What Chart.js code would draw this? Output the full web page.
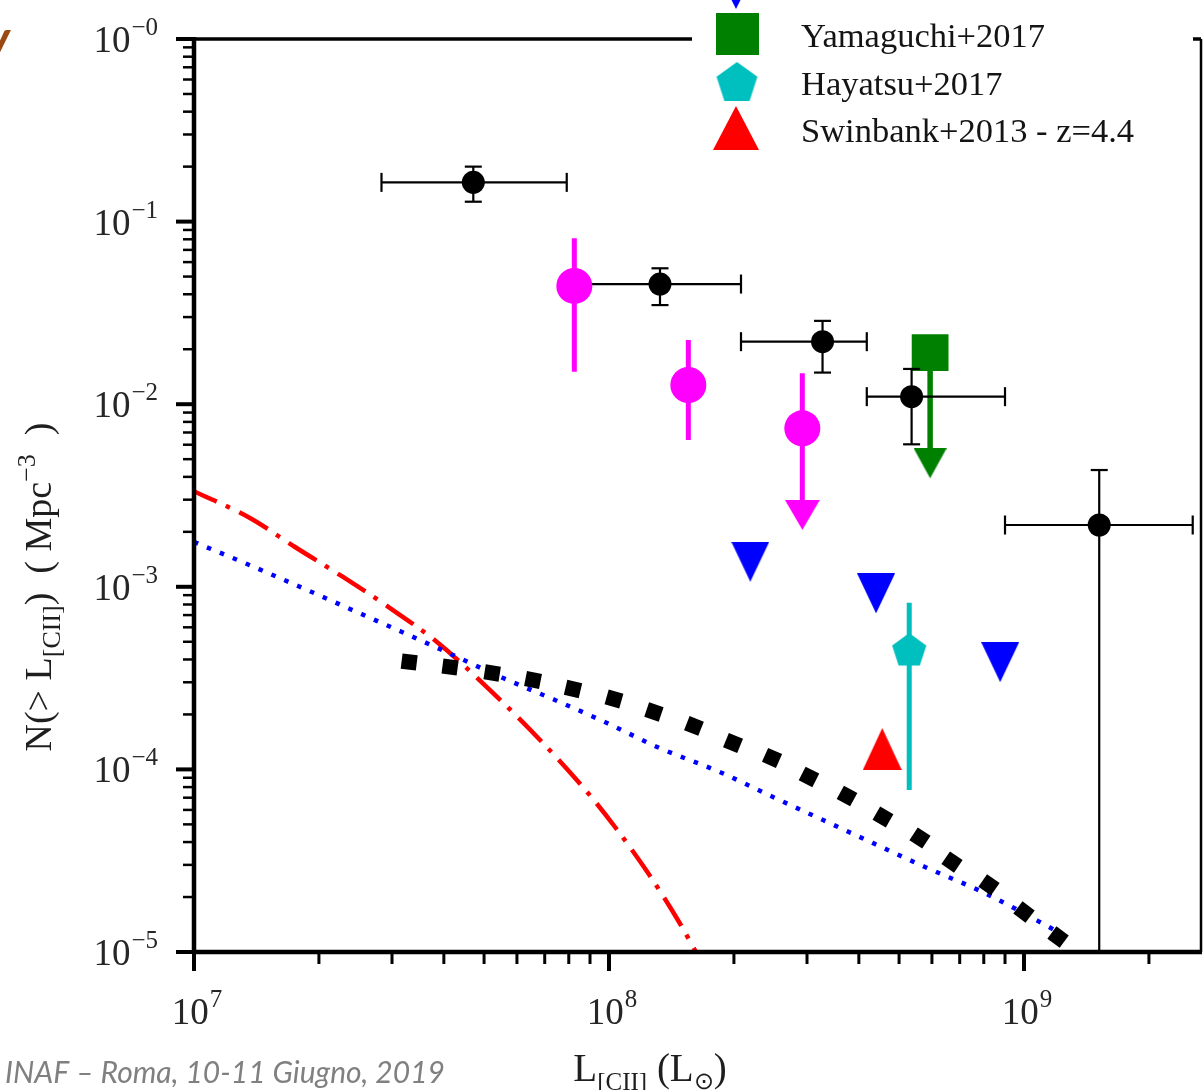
<!DOCTYPE html>
<html>
<head>
<meta charset="utf-8">
<script src="https://cdn.jsdelivr.net/npm/chart.js@4.4.1/dist/chart.umd.min.js"></script>
<style>
  html, body { margin: 0; padding: 0; background: #fff; overflow: hidden; }
  #wrap { width: 1204px; height: 1090px; }
  canvas { display: block; }
</style>
</head>
<body>
<div id="wrap"><canvas id="lf" width="1204" height="1090"></canvas></div>
<script>
// axis limits
const X_MIN = 1e7, X_MAX = 2.67e9;
const Y_MIN = 1e-5, Y_MAX = 1;
const xDecades = [7, 8, 9];
const yDecades = [0, -1, -2, -3, -4, -5];

// red dash-dot model
const redX = [1.0e7, 1.364e7, 1.751e7, 2.286e7, 2.967e7, 3.85e7, 5.167e7, 6.82e7, 8.9e7, 1.034e8, 1.242e8, 1.475e8, 1.62e8];
const redY = [3.34e-3, 2.381e-3, 1.652e-3, 1.132e-3, 7.65e-4, 4.985e-4, 2.72e-4, 1.449e-4, 7.42e-5, 4.836e-5, 2.707e-5, 1.46e-5, 1.0e-5];

// blue dotted model
const blueX = [1.0e7, 1.342e7, 1.781e7, 2.376e7, 3.171e7, 4.209e7, 5.554e7, 7.41e7, 9.89e7, 1.306e8, 1.872e8, 2.484e8, 3.279e8, 4.375e8, 5.774e8, 8.054e8, 1.235e9];
const blueY = [1.76e-3, 1.333e-3, 1.01e-3, 7.56e-4, 5.655e-4, 4.23e-4, 3.166e-4, 2.399e-4, 1.795e-4, 1.327e-4, 9.56e-5, 7.06e-5, 5.28e-5, 3.903e-5, 2.92e-5, 2.10e-5, 1.255e-5];

// black square-dotted model
const boxX = [3.30e7, 4.14e7, 5.23e7, 6.56e7, 8.19e7, 1.028e8, 1.283e8, 1.602e8, 1.99e8, 2.471e8, 3.033e8, 3.746e8, 4.573e8, 5.615e8, 6.707e8, 8.235e8, 1.0e9, 1.208e9];
const boxY = [3.875e-4, 3.637e-4, 3.372e-4, 3.087e-4, 2.756e-4, 2.429e-4, 2.062e-4, 1.729e-4, 1.395e-4, 1.155e-4, 9.09e-5, 7.15e-5, 5.49e-5, 4.21e-5, 3.11e-5, 2.33e-5, 1.656e-5, 1.208e-5];

// black points (bins) with errors
const ssX = [4.71e7, 1.327e8, 3.27e8, 5.36e8, 1.518e9];
const ssY = [0.164, 0.0455, 0.0220, 0.0110, 0.00218];
const ssXlo = [2.83e7, 7.91e7, 2.08e8, 4.18e8, 9.0e8];
const ssXhi = [7.91e7, 2.08e8, 4.18e8, 9.0e8, 2.55e9];
const ssYlo = [0.1285, 0.0349, 0.0149, 0.00603, 5e-6];
const ssYhi = [0.200, 0.0555, 0.0286, 0.0156, 0.00436];

// magenta points
const mgX = [8.25e7, 1.553e8, 2.923e8];
const mgY = [0.0444, 0.01274, 0.00738];
const mgYhi = [0.0810, 0.02247, 0.01476];
const mgYlo = [0.01507, 0.006366, null];
const mgLim = [null, null, 0.00205];

// Yamaguchi+2017 (upper limit)
const yamX = [5.94e8];
const yamY = [0.01919];
const yamLim = [0.00393];

// Hayatsu+2017
const hayX = [5.29e8];
const hayY = [4.45e-4];
const hayYlo = [7.71e-5];
const hayYhi = [8.18e-4];

// Swinbank+2013 - z=4.4
const swiX = [4.553e8];
const swiY = [1.293e-4];

// blue upper limits
const blX = [2.19e8, 4.40e8, 8.76e8];
const blY = [1.372e-3, 9.21e-4, 3.865e-4];

const legendLabels = ['Yamaguchi+2017', 'Hayatsu+2017', 'Swinbank+2013 - z=4.4'];

const SERIF = '"Liberation Serif", "Times New Roman", serif';
const MAGENTA = '#ff00ff', GREEN = '#008000', CYAN = '#00bfbf', RED = '#ff0000', BLUE = '#0000ff';

const pts = (xs, ys) => xs.map((x, i) => ({ x: x, y: ys[i] }));

// marker images (matplotlib-like shapes)
function shapeCanvas(cw, ch, color, poly) {
    const c = document.createElement('canvas');
    c.width = cw;
    c.height = ch;
    const g = c.getContext('2d');
    g.fillStyle = color;
    g.beginPath();
    poly.forEach((p, i) => i ? g.lineTo(p[0], p[1]) : g.moveTo(p[0], p[1]));
    g.closePath();
    g.fill();
    return c;
}
const triDown = (w, h, col) => shapeCanvas(w, h, col, [[0, 0], [w, 0], [w / 2, h]]);
const triUp = (w, h, col) => shapeCanvas(w, h, col, [[w / 2, 0], [w, h], [0, h]]);
// tip sits at the canvas centre
const arrowHead = (w, h, col) => shapeCanvas(w, 2 * h, col, [[0, 0], [w, 0], [w / 2, h]]);
function pentagon(r, col) {
    const s = Math.ceil(2 * r);
    const poly = [];
    for (let k = 0; k < 5; k++) {
        const a = (-90 + 72 * k) * Math.PI / 180;
        poly.push([s / 2 + r * Math.cos(a), s / 2 + r * Math.sin(a)]);
    }
    return shapeCanvas(s, s, col, poly);
}

const mkBlueTri = triDown(38, 40, BLUE);
const mkRedTri = triUp(39, 42, RED);
const mkPent = pentagon(18, CYAN);
const mkMgArrow = arrowHead(35, 30, MAGENTA);
const mkGrArrow = arrowHead(33, 30, GREEN);

// squares follow the direction of the curve
function boxAngle(c) {
    const d = c.dataset.data, i = c.dataIndex;
    const sx = c.chart.scales.x, sy = c.chart.scales.y;
    const p = d[Math.max(i - 1, 0)], q = d[Math.min(i + 1, d.length - 1)];
    const dx = sx.getPixelForValue(q.x) - sx.getPixelForValue(p.x);
    const dy = sy.getPixelForValue(q.y) - sy.getPixelForValue(p.y);
    return Math.atan2(dy, dx) * 180 / Math.PI;
}

function vline(ctx, x, y0, y1, col, w) {
    ctx.strokeStyle = col;
    ctx.lineWidth = w;
    ctx.beginPath();
    ctx.moveTo(x, y0);
    ctx.lineTo(x, y1);
    ctx.stroke();
}
function hline(ctx, x0, x1, y, col, w) {
    ctx.strokeStyle = col;
    ctx.lineWidth = w;
    ctx.beginPath();
    ctx.moveTo(x0, y);
    ctx.lineTo(x1, y);
    ctx.stroke();
}

const errBars = {
    id: 'errBars',
    beforeDatasetsDraw(chart) {
        const { ctx, chartArea: a, scales: { x, y } } = chart;
        ctx.save();
        ctx.beginPath();
        ctx.rect(a.left, a.top, a.right - a.left, a.bottom - a.top);
        ctx.clip();
        ctx.lineCap = 'butt';
        mgX.forEach((v, i) => {
            const px = x.getPixelForValue(v);
            if (mgLim[i] !== null) {
                vline(ctx, px, y.getPixelForValue(mgYhi[i]), y.getPixelForValue(mgLim[i]) - 20, MAGENTA, 5);
            } else {
                vline(ctx, px, y.getPixelForValue(mgYhi[i]), y.getPixelForValue(mgYlo[i]), MAGENTA, 5);
            }
        });
        yamX.forEach((v, i) => {
            vline(ctx, x.getPixelForValue(v), y.getPixelForValue(yamY[i]), y.getPixelForValue(yamLim[i]) - 20, GREEN, 5.5);
        });
        hayX.forEach((v, i) => {
            vline(ctx, x.getPixelForValue(v), y.getPixelForValue(hayYhi[i]), y.getPixelForValue(hayYlo[i]), CYAN, 5);
        });
        ctx.restore();
    },
    afterDatasetDraw(chart, args) {
        // black error bars go above the Yamaguchi square, below the other symbols
        if (chart.data.datasets[args.index].label !== 'Yamaguchi+2017') return;
        const { ctx, chartArea: a, scales: { x, y } } = chart;
        ctx.save();
        ctx.beginPath();
        ctx.rect(a.left, a.top, a.right - a.left, a.bottom - a.top);
        ctx.clip();
        ssX.forEach((v, i) => {
            const px = x.getPixelForValue(v), py = y.getPixelForValue(ssY[i]);
            const x0 = x.getPixelForValue(ssXlo[i]), x1 = x.getPixelForValue(ssXhi[i]);
            const y0 = y.getPixelForValue(ssYhi[i]), y1 = y.getPixelForValue(ssYlo[i]);
            hline(ctx, x0, x1, py, '#000', 2.2);
            vline(ctx, px, y0, y1, '#000', 2.2);
            vline(ctx, x0, py - 9.5, py + 9.5, '#000', 2.2);
            vline(ctx, x1, py - 9.5, py + 9.5, '#000', 2.2);
            hline(ctx, px - 8.5, px + 8.5, y0, '#000', 2.2);
            hline(ctx, px - 8.5, px + 8.5, y1, '#000', 2.2);
        });
        ctx.restore();
    }
};

// draws "10" with a raised exponent
function drawPow(ctx, exp, x, base, align) {
    const fBase = '37px ' + SERIF, fSup = '25px ' + SERIF;
    ctx.font = fBase;
    const wb = ctx.measureText('10').width;
    ctx.font = fSup;
    const we = ctx.measureText(exp).width;
    const x0 = align === 'right' ? x - wb - we - 1 : x - (wb + we + 1) / 2;
    ctx.font = fBase;
    ctx.fillText('10', x0, base);
    ctx.font = fSup;
    ctx.fillText(exp, x0 + wb + 1, base - 17);
}

// rich text: list of [text, size, dy]
function drawRich(ctx, parts, cx, base) {
    let total = 0;
    parts.forEach(p => { ctx.font = p[1] + 'px ' + SERIF; total += ctx.measureText(p[0]).width; });
    let xx = cx - total / 2;
    parts.forEach(p => {
        ctx.font = p[1] + 'px ' + SERIF;
        ctx.fillText(p[0], xx, base + p[2]);
        xx += ctx.measureText(p[0]).width;
    });
}

const frame = {
    id: 'frame',
    afterDraw(chart) {
        const { ctx, chartArea: a, scales: { x, y } } = chart;
        ctx.save();
        ctx.strokeStyle = '#000';
        ctx.lineCap = 'butt';
        // y ticks (outside, left)
        yDecades.forEach(e => {
            for (let k = 1; k <= 9; k++) {
                const v = k * Math.pow(10, e);
                if (v > Y_MAX * 1.0001) break;
                const py = y.getPixelForValue(v);
                hline(ctx, a.left - (k === 1 ? 18 : 11), a.left, py, '#000', k === 1 ? 4 : 2.5);
            }
        });
        // x ticks (outside, below)
        xDecades.forEach(e => {
            for (let k = 1; k <= 9; k++) {
                const v = k * Math.pow(10, e);
                if (v > X_MAX) break;
                const px = x.getPixelForValue(v);
                vline(ctx, px, a.bottom, a.bottom + (k === 1 ? 19 : 12), '#000', k === 1 ? 4 : 3);
            }
        });
        // frame
        vline(ctx, a.left, a.top - 2, a.bottom + 2, '#000', 4.5);
        hline(ctx, a.left - 2, a.right + 1, a.bottom, '#000', 4.5);
        hline(ctx, a.left, a.right, a.top, '#000', 3.5);
        vline(ctx, a.right, a.top, a.bottom, '#000', 2.5);

        // tick labels
        ctx.fillStyle = '#262626';
        ctx.textAlign = 'left';
        ctx.textBaseline = 'alphabetic';
        yDecades.forEach(e => {
            drawPow(ctx, '\u2212' + Math.abs(e), 158, y.getPixelForValue(Math.pow(10, e)) + 13, 'right');
        });
        xDecades.forEach(e => {
            drawPow(ctx, String(e), x.getPixelForValue(Math.pow(10, e)) + 3, 1024, 'center');
        });

        // axis titles
        ctx.fillStyle = '#1e1e1e';
        drawRich(ctx, [['L', 39, 0], ['[CII]', 25, 9], [' (L', 39, 0], ['\u2299', 24, 8], [')', 39, 0]], 650, 1081);
        ctx.save();
        ctx.translate(51, 587);
        ctx.rotate(-Math.PI / 2);
        drawRich(ctx, [['N(> L', 38, 0], ['[CII]', 26, 9], [')  ( Mpc', 38, 0], ['\u22123', 26, -16], ['  )', 38, 0]], 0, 0);
        ctx.restore();

        // legend (white box over the frame)
        ctx.fillStyle = '#fff';
        ctx.fillRect(692, 0, 501, 152);
        ctx.drawImage(triDown(44, 44, BLUE), 714, -35);
        ctx.fillStyle = GREEN;
        ctx.fillRect(716, 13, 43, 42);
        ctx.drawImage(pentagon(21.5, CYAN), 715.5, 62);
        ctx.drawImage(triUp(46, 44, RED), 713, 106);
        ctx.fillStyle = '#141414';
        ctx.font = '34.5px ' + SERIF;
        legendLabels.forEach((t, i) => ctx.fillText(t, 801, 47 + i * 47.5));

        // slide decorations
        ctx.fillStyle = '#808080';
        ctx.font = 'italic 30px Lato, "Open Sans", sans-serif';
        ctx.fillText('INAF \u2013 Roma, 10-11 Giugno, 2019', 5, 1083);
        ctx.fillStyle = '#9a4a10';
        ctx.font = 'italic bold 44px Lato, "Open Sans", sans-serif';
        ctx.fillText('V', -20, 62);
        ctx.restore();
    }
};

new Chart(document.getElementById('lf'), {
    type: 'scatter',
    data: {
        datasets: [{
            label: 'red model',
            data: pts(redX, redY),
            showLine: true,
            borderColor: RED,
            borderWidth: 4.5,
            borderDash: [33, 10, 4.5, 10.5],
            borderDashOffset: 8,
            cubicInterpolationMode: 'monotone',
            pointRadius: 0,
            order: 10,
        }, {
            label: 'blue model',
            data: pts(blueX, blueY),
            showLine: true,
            borderColor: BLUE,
            borderWidth: 4.5,
            borderDash: [4.5, 9.5],
            cubicInterpolationMode: 'monotone',
            pointRadius: 0,
            order: 9,
        }, {
            label: 'black model',
            data: pts(boxX, boxY),
            pointStyle: 'rect',
            pointRadius: 10.8,
            pointRotation: boxAngle,
            backgroundColor: '#000',
            borderWidth: 0,
            order: 8,
        }, {
            label: 'Yamaguchi+2017',
            data: pts(yamX, yamY),
            pointStyle: 'rect',
            pointRadius: 26,
            backgroundColor: GREEN,
            borderWidth: 0,
            order: 7,
        }, {
            label: 'Yamaguchi limit',
            data: pts(yamX, yamLim),
            pointStyle: mkGrArrow,
            pointRadius: 20,
            order: 6.5,
        }, {
            label: 'bins',
            data: pts(ssX, ssY),
            pointStyle: 'circle',
            pointRadius: 11.5,
            backgroundColor: '#000',
            borderWidth: 0,
            order: 5,
        }, {
            label: 'magenta',
            data: pts(mgX, mgY),
            pointStyle: 'circle',
            pointRadius: 18,
            backgroundColor: MAGENTA,
            borderWidth: 0,
            order: 4,
        }, {
            label: 'magenta limit',
            data: mgX.map((v, i) => ({ x: v, y: mgLim[i] })).filter(p => p.y !== null),
            pointStyle: mkMgArrow,
            pointRadius: 20,
            order: 4,
        }, {
            label: 'Hayatsu+2017',
            data: pts(hayX, hayY),
            pointStyle: mkPent,
            pointRadius: 20,
            order: 3,
        }, {
            label: 'Swinbank+2013 - z=4.4',
            data: pts(swiX, swiY),
            pointStyle: mkRedTri,
            pointRadius: 20,
            order: 2,
        }, {
            label: 'upper limits',
            data: pts(blX, blY),
            pointStyle: mkBlueTri,
            pointRadius: 20,
            order: 1,
        }],
    },
    options: {
        responsive: false,
        animation: false,
        devicePixelRatio: 1,
        events: [],
        layout: {
            autoPadding: false,
            padding: { left: 194, right: 3, top: 39, bottom: 138 },
        },
        scales: {
            x: { type: 'logarithmic', min: X_MIN, max: X_MAX, bounds: 'data', display: false },
            y: { type: 'logarithmic', min: Y_MIN, max: Y_MAX, bounds: 'data', display: false },
        },
        plugins: {
            legend: { display: false },
            tooltip: { enabled: false },
        },
    },
    plugins: [errBars, frame],
});
</script>
</body>
</html>
